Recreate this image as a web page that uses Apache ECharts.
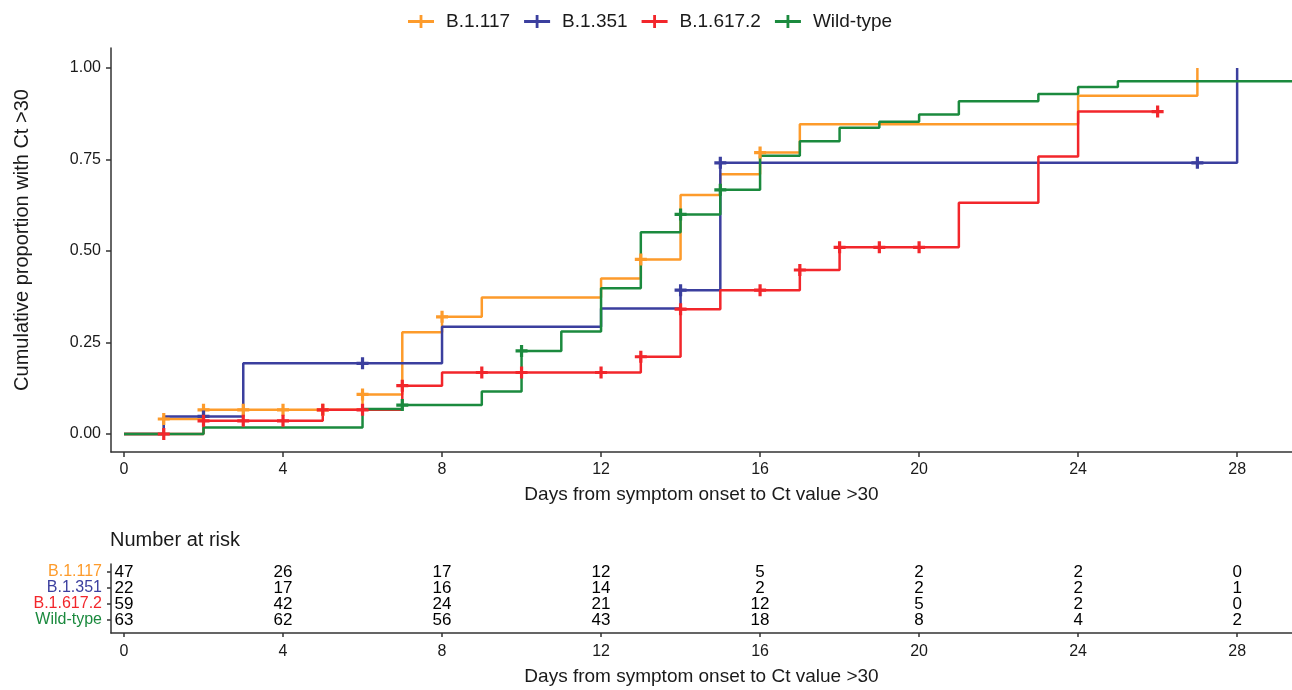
<!DOCTYPE html>
<html>
<head>
<meta charset="utf-8">
<script src="https://cdn.jsdelivr.net/npm/echarts@6/dist/echarts.min.js"></script>
<style>
html,body{margin:0;padding:0;background:#fff;}
#chart{width:1292px;height:690px;}
</style>
</head>
<body>
<div id="chart"></div>
<script>
// ---------- data ----------
const groups = ['B.1.117', 'B.1.351', 'B.1.617.2', 'Wild-type'];
const groupColors = ['#FD9B2B', '#3B3F9E', '#F2262B', '#1B8A3E'];

const dayTicks = [0, 4, 8, 12, 16, 20, 24, 28];
const yTicks = [0, 0.25, 0.5, 0.75, 1];

// step (event) times and cumulative proportion after each step
const b117Time = [0, 1, 2, 6, 7, 8, 9, 12, 13, 14, 15, 16, 17, 24, 27];
const b117Cum  = [0, 0.041, 0.066, 0.108, 0.278, 0.320, 0.373, 0.425, 0.477, 0.653, 0.710, 0.769, 0.846, 0.924, 1.0];
const b117Censor = [1, 2, 3, 4, 5, 6, 8, 13, 16];

const b1351Time = [0, 1, 3, 8, 12, 14, 15, 28];
const b1351Cum  = [0, 0.048, 0.193, 0.293, 0.343, 0.393, 0.741, 1.0];
const b1351Censor = [2, 6, 14, 15, 27];

const b16172Time = [0, 2, 5, 7, 8, 13, 14, 15, 17, 18, 21, 23, 24, 26];
const b16172Cum  = [0, 0.036, 0.066, 0.132, 0.168, 0.211, 0.341, 0.393, 0.448, 0.510, 0.632, 0.758, 0.881, 0.881];
const b16172Censor = [1, 2, 3, 4, 5, 6, 7, 9, 10, 12, 13, 14, 16, 17, 18, 19, 20, 26];

const wildTime = [0, 2, 6, 7, 9, 10, 11, 12, 13, 14, 15, 16, 17, 18, 19, 20, 21, 23, 24, 25, 30];
const wildCum  = [0, 0.018, 0.068, 0.079, 0.116, 0.227, 0.280, 0.398, 0.551, 0.600, 0.667, 0.760, 0.800, 0.837, 0.853, 0.873, 0.909, 0.929, 0.948, 0.964, 0.964];
const wildCensor = [7, 10, 14, 15];

// number at risk at dayTicks
const riskB117   = [47, 26, 17, 12, 5, 2, 2, 0];
const riskB1351  = [22, 17, 16, 14, 2, 2, 2, 1];
const riskB16172 = [59, 42, 24, 21, 12, 5, 2, 0];
const riskWild   = [63, 62, 56, 43, 18, 8, 4, 2];

// ---------- build ----------
const FONT = "'Liberation Sans', Arial, sans-serif";
const TXT = '#1a1a1a';
const AX = '#333333';

const stepTimes = [b117Time, b1351Time, b16172Time, wildTime];
const stepCums = [b117Cum, b1351Cum, b16172Cum, wildCum];
const censors = [b117Censor, b1351Censor, b16172Censor, wildCensor];
const risks = [riskB117, riskB1351, riskB16172, riskWild];

function valueAt(times, cums, t) {
  let v = 0;
  for (let i = 0; i < times.length; i++) { if (times[i] <= t) v = cums[i]; }
  return v;
}

const plusPath = 'path://M4.4,0H7.6V4.4H12V7.6H7.6V12H4.4V7.6H0V4.4H4.4Z';
const legendIcon = 'path://M0,5H26V7.8H0Z M11.6,0H14.4V12.8H11.6Z';

const series = [];
groups.forEach((g, k) => {
  series.push({
    type: 'line', name: g, step: 'end',
    xAxisIndex: 0, yAxisIndex: 0,
    data: stepTimes[k].map((t, i) => [t, stepCums[k][i]]),
    symbol: 'none', showSymbol: false, clip: true,
    lineStyle: { width: 2.5, color: groupColors[k] },
    itemStyle: { color: groupColors[k] },
    z: 2 + k
  });
});
groups.forEach((g, k) => {
  series.push({
    type: 'scatter', name: g + ' censored',
    xAxisIndex: 0, yAxisIndex: 0,
    data: censors[k].map(t => [t, valueAt(stepTimes[k], stepCums[k], t)]),
    symbol: plusPath, symbolSize: 12,
    itemStyle: { color: groupColors[k], opacity: 1 },
    silent: true, z: 10
  });
});
// risk table numbers
groups.forEach((g, k) => {
  series.push({
    type: 'scatter', name: g + ' risk',
    xAxisIndex: 1, yAxisIndex: 1,
    data: dayTicks.map((d, i) => [d, 3 - k, risks[k][i]]),
    symbolSize: 2,
    itemStyle: { color: 'rgba(0,0,0,0)' },
    label: {
      show: true, position: 'inside',
      formatter: p => String(p.value[2]),
      fontSize: 17, color: '#000000', opacity: 1, textBorderWidth: 0, fontFamily: FONT
    },
    silent: true, z: 20
  });
});

const rich = {};
groups.forEach((g, k) => { rich['g' + k] = { color: groupColors[k], fontSize: 16, fontFamily: FONT }; });

const option = {
  animation: false,
  backgroundColor: '#ffffff',
  textStyle: { fontFamily: FONT },
  legend: {
    data: groups.map(g => ({ name: g, icon: legendIcon })),
    left: 408, top: 12, padding: 0,
    itemWidth: 26, itemHeight: 12.8, itemGap: 14,
    textStyle: { fontSize: 19, color: TXT, fontFamily: FONT, padding: [0, 0, 0, 7] }
  },
  grid: [
    { left: 111, right: 0, top: 48, height: 404, outerBoundsMode: 'none', containLabel: false },
    { left: 111, right: 0, top: 564, height: 69, outerBoundsMode: 'none', containLabel: false }
  ],
  xAxis: [
    {
      type: 'value', gridIndex: 0, min: -0.327, max: 29.38,
      axisLine: { show: true, onZero: false, lineStyle: { color: AX, width: 1.5 } },
      axisTick: { show: true, customValues: dayTicks, length: 5, lineStyle: { color: AX, width: 1.5 } },
      axisLabel: { customValues: dayTicks, fontSize: 16, color: TXT, margin: 10, fontFamily: FONT },
      splitLine: { show: false },
      name: 'Days from symptom onset to Ct value >30', nameLocation: 'middle', nameGap: 33,
      nameTextStyle: { fontSize: 19, color: TXT, fontFamily: FONT }
    },
    {
      type: 'value', gridIndex: 1, min: -0.327, max: 29.38,
      axisLine: { show: true, onZero: false, lineStyle: { color: AX, width: 1.5 } },
      axisTick: { show: true, customValues: dayTicks, length: 4, lineStyle: { color: AX, width: 1.5 } },
      axisLabel: { customValues: dayTicks, fontSize: 16, color: TXT, margin: 11, fontFamily: FONT },
      splitLine: { show: false },
      name: 'Days from symptom onset to Ct value >30', nameLocation: 'middle', nameGap: 34,
      nameTextStyle: { fontSize: 19, color: TXT, fontFamily: FONT }
    }
  ],
  yAxis: [
    {
      type: 'value', gridIndex: 0, min: -0.0492, max: 1.0546,
      axisLine: { show: true, onZero: false, lineStyle: { color: AX, width: 1.5 } },
      axisTick: { show: true, customValues: yTicks, length: 5, lineStyle: { color: AX, width: 1.5 } },
      axisLabel: { customValues: yTicks, formatter: v => Number(v).toFixed(2), fontSize: 16, color: TXT, margin: 10, fontFamily: FONT },
      splitLine: { show: false }
    },
    {
      type: 'value', gridIndex: 1, min: -0.8125, max: 3.5,
      axisLine: { show: true, onZero: false, lineStyle: { color: AX, width: 1.5 } },
      axisTick: { show: true, customValues: [0, 1, 2, 3], length: 4, lineStyle: { color: AX, width: 1.5 } },
      axisLabel: {
        customValues: [0, 1, 2, 3], margin: 9,
        formatter: v => { const k = 3 - Math.round(v); return '{g' + k + '|' + groups[k] + '}'; },
        rich: rich
      },
      splitLine: { show: false }
    }
  ],
  graphic: [
    {
      type: 'text', x: 22, y: 240, rotation: Math.PI / 2,
      style: { text: 'Cumulative proportion with Ct >30', fontSize: 20, fill: TXT, fontFamily: FONT, align: 'center', verticalAlign: 'middle' }
    },
    {
      type: 'text', x: 110, y: 540,
      style: { text: 'Number at risk', fontSize: 20, fill: TXT, fontFamily: FONT, align: 'left', verticalAlign: 'middle' }
    }
  ],
  series: series
};

const chart = echarts.init(document.getElementById('chart'), null, { renderer: 'canvas' });
chart.setOption(option);
</script>
</body>
</html>
